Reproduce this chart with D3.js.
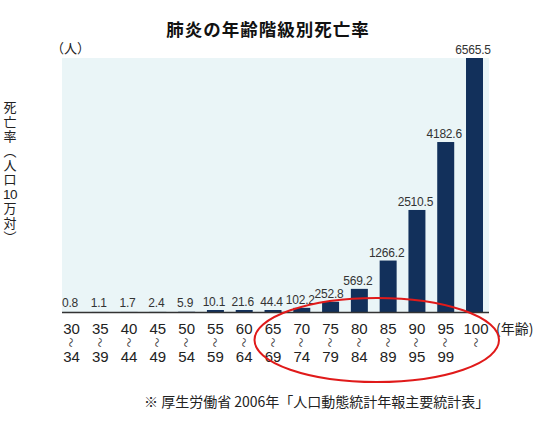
<!DOCTYPE html>
<html><head><meta charset="utf-8">
<script src="https://cdn.jsdelivr.net/npm/d3@7"></script>
<style>
body{margin:0;background:#fff;}
</style></head>
<body><svg id="c" width="541" height="430"></svg>
<script>
const ageStart = ["30","35","40","45","50","55","60","65","70","75","80","85","90","95","100"];
const ageEnd   = ["34","39","44","49","54","59","64","69","74","79","84","89","95","99",""];
const rates    = [0.8,1.1,1.7,2.4,5.9,10.1,21.6,44.4,102.2,252.8,569.2,1266.2,2510.5,4182.6,6565.5];
const rateLabels = ["0.8","1.1","1.7","2.4","5.9","10.1","21.6","44.4","102.2","252.8","569.2","1266.2","2510.5","4182.6","6565.5"];
const yTitleParts = ["死亡率（人口","10","万対）"];
const title = "肺炎の年齢階級別死亡率";
const unitLabel = "（人）";
const xUnit = "(年齢)";
const source = "※ 厚生労働省 2006年「人口動態統計年報主要統計表」";

const svg = d3.select("#c");
const plot = {left:62, right:489, top:58, bottom:312};
const jp = '"Noto Sans CJK JP", sans-serif';
const lat = '"Liberation Sans", Arial, sans-serif';

const x = d3.scaleBand().domain(ageStart).range([63, 483]).paddingInner(0.41).paddingOuter(0);
const y = d3.scaleLinear().domain([0, 6250]).range([plot.bottom, plot.top]).clamp(true);

svg.append("rect").attr("x",plot.left).attr("y",plot.top)
  .attr("width",plot.right-plot.left).attr("height",plot.bottom-plot.top)
  .attr("fill","#eaf5f7");

svg.append("text").attr("x",268).attr("y",36).attr("text-anchor","middle")
  .attr("font-family",jp).attr("font-weight","bold").attr("font-size","17.5px")
  .attr("letter-spacing","1px").attr("fill","#111").text(title);

svg.append("text").attr("x",51).attr("y",53).attr("font-family",jp)
  .attr("font-size","13px").attr("fill","#222").text(unitLabel);

const data = rates.map((v,i)=>({k:ageStart[i], v, lab:rateLabels[i], end:ageEnd[i]}));
const barTop = d => {
  const t = y(d.v);
  return (d.v >= 10) ? Math.min(t, plot.bottom-2) : t;
};
svg.append("g").selectAll("rect").data(data).join("rect")
  .attr("x", d=>x(d.k)).attr("width", x.bandwidth())
  .attr("y", barTop).attr("height", d=>plot.bottom-barTop(d))
  .attr("fill","#12305b");

svg.append("g").selectAll("text").data(data).join("text")
  .attr("x", d=>x(d.k)+x.bandwidth()/2-1.5)
  .attr("y", d=>Math.min(barTop(d), plot.bottom-1)-4)
  .attr("text-anchor","middle").attr("font-family",lat).attr("font-size","12px")
  .attr("letter-spacing","-0.2px").attr("fill","#333").text(d=>d.lab);

svg.append("line").attr("x1",plot.left).attr("x2",plot.right)
  .attr("y1",plot.bottom+0.5).attr("y2",plot.bottom+0.5)
  .attr("stroke","#333").attr("stroke-width",1.5);

const ticks = svg.append("g").selectAll("g").data(data).join("g")
  .attr("transform", d=>`translate(${x(d.k)+x.bandwidth()/2+(d.k==="100"?1.5:0)},0)`);
ticks.append("text").attr("y",334).attr("text-anchor","middle")
  .attr("font-family",lat).attr("font-size","15px").attr("fill","#222").text(d=>d.k);
ticks.append("text").attr("text-anchor","middle").attr("dominant-baseline","central")
  .attr("transform","translate(0,342.5) rotate(90)")
  .attr("font-family",jp).attr("font-size","10px").attr("fill","#444").text("〜");
ticks.append("text").attr("y",361.5).attr("text-anchor","middle")
  .attr("font-family",lat).attr("font-size","15px").attr("fill","#222").text(d=>d.end);

svg.append("text").attr("x",496).attr("y",334).attr("font-family",jp)
  .attr("font-size","14px").attr("fill","#222").text(xUnit);

// vertical y-axis title: two vertical runs with horizontal "10" between
const rowH = 14.4, yTop = 101;
svg.append("text").attr("x",10).attr("y",yTop)
  .style("writing-mode","vertical-rl").attr("font-family",jp).attr("font-size","13px")
  .attr("letter-spacing",(rowH-13)+"px").attr("fill","#222").text(yTitleParts[0]);
svg.append("text").attr("x",10).attr("y",yTop+6*rowH+12)
  .attr("text-anchor","middle")
  .attr("font-family",lat).attr("font-size","13.5px").attr("letter-spacing","-0.6px")
  .attr("fill","#222").text(yTitleParts[1]);
svg.append("text").attr("x",10).attr("y",yTop+7*rowH)
  .style("writing-mode","vertical-rl").attr("font-family",jp).attr("font-size","13px")
  .attr("letter-spacing",(rowH-13)+"px").attr("fill","#222").text(yTitleParts[2]);

svg.append("text").attr("x",144).attr("y",407).attr("font-family",jp)
  .attr("font-size","14px").attr("fill","#222").text(source);

const exL = x("65")-10, exR = x("100")+x.bandwidth()+16;
svg.append("ellipse").attr("cx",(exL+exR)/2).attr("cy",340)
  .attr("rx",(exR-exL)/2).attr("ry",42)
  .attr("fill","none").attr("stroke","#e01a1a").attr("stroke-width",2);
</script></body></html>
